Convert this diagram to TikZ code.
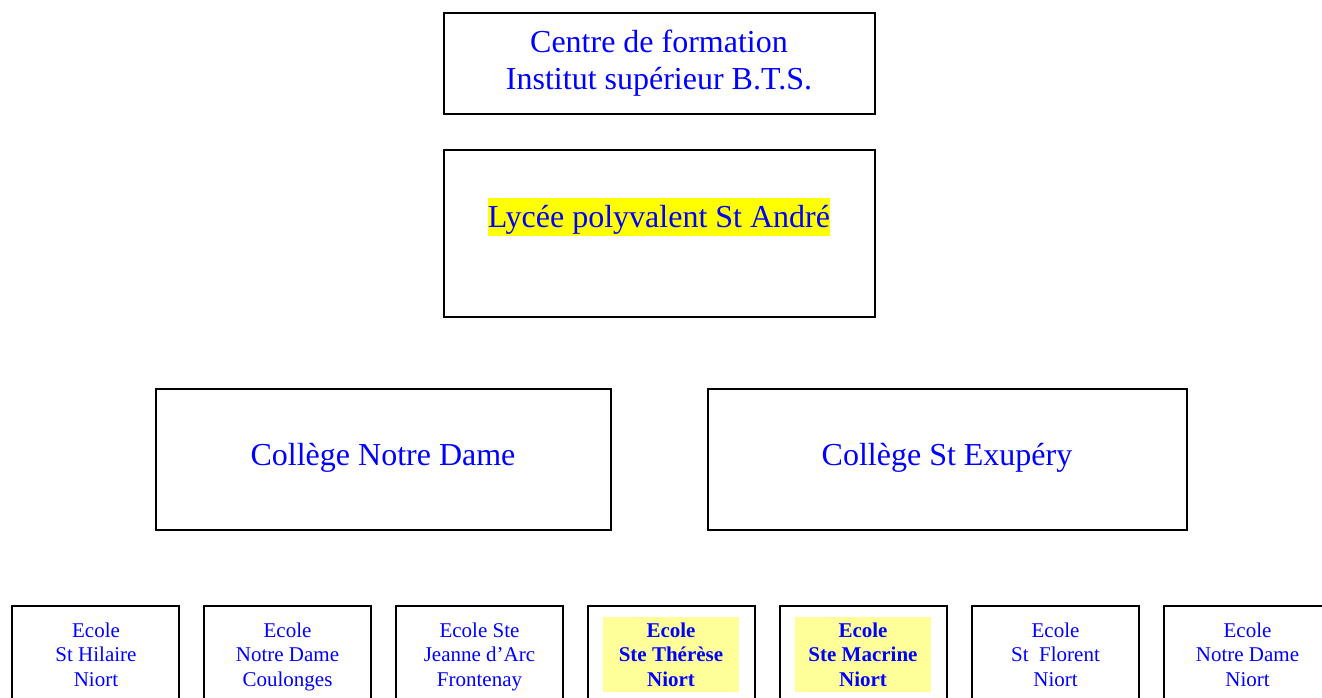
\documentclass[tikz,border=0pt]{standalone}
\usepackage{fontspec}
\setmainfont{Liberation Serif}
\definecolor{txtblue}{RGB}{0,0,255}
\definecolor{hlyellow}{RGB}{255,255,0}
\definecolor{paleyellow}{RGB}{255,255,153}
\begin{document}
\begin{tikzpicture}[x=1pt,y=-1pt,
  box/.style={draw=black,line width=2pt,rectangle,inner sep=0pt,outer sep=0pt},
  bigtxt/.style={text=txtblue,font=\fontsize{32}{37}\selectfont,inner sep=0pt,anchor=base},
  smalltxt/.style={text=txtblue,font=\fontsize{21}{24.5}\selectfont,inner sep=0pt,anchor=base},
  boldtxt/.style={smalltxt,font=\fontsize{21}{24.5}\selectfont\bfseries},
  hl/.style={fill=paleyellow,draw=none,rectangle,inner sep=0pt,minimum width=136pt,minimum height=75pt},
  school/.style={box,minimum width=167pt,minimum height=124pt}
]
\useasboundingbox (0,0) rectangle (1322,697);
\clip (0,0) rectangle (1322,697);

% top
\node[box,minimum width=431pt,minimum height=100.7pt] (centre) at (659.5,63.3) {};
\node[bigtxt] (centre1) at (659,52.5) {Centre de formation};
\node[bigtxt] (centre2) at (659,89.5) {Institut supérieur B.T.S.};

% lycee
\node[box,minimum width=431pt,minimum height=167pt] (lycee) at (659.5,233.5) {};
\node[bigtxt,fill=hlyellow,text height=29pt,text depth=9pt] (lyceetxt) at (659,227) {Lycée polyvalent St André};

% colleges
\node[box,minimum width=455pt,minimum height=141.3pt] (cnd) at (383.2,459.3) {};
\node[bigtxt] (cndtxt) at (383,465) {Collège Notre Dame};
\node[box,minimum width=479pt,minimum height=141.3pt] (cse) at (947.5,459.3) {};
\node[bigtxt] (csetxt) at (947,465) {Collège St Exupéry};

% schools
\node[school] (e1) at (95.5,668) {};
\node[school] (e2) at (287.5,668) {};
\node[school] (e3) at (479.5,668) {};
\node[school] (e4) at (671.5,668) {};
\node[school] (e5) at (863.5,668) {};
\node[school] (e6) at (1055.5,668) {};
\node[school] (e7) at (1247.5,668) {};

\node[hl] (h4) at (671,654.5) {};
\node[hl] (h5) at (863,654.5) {};

\node[smalltxt] (e1a) at (96,637) {Ecole};
\node[smalltxt] (e1b) at (96,661.5) {St Hilaire};
\node[smalltxt] (e1c) at (96,686) {Niort};

\node[smalltxt] (e2a) at (287.5,637) {Ecole};
\node[smalltxt] (e2b) at (287.5,661.5) {Notre Dame};
\node[smalltxt] (e2c) at (287.5,686) {Coulonges};

\node[smalltxt] (e3a) at (479.5,637) {Ecole Ste};
\node[smalltxt] (e3b) at (479.5,661.5) {Jeanne d’Arc};
\node[smalltxt] (e3c) at (479.5,686) {Frontenay};

\node[boldtxt] (e4a) at (671,637) {Ecole};
\node[boldtxt] (e4b) at (671,661.5) {Ste Thérèse};
\node[boldtxt] (e4c) at (671,686) {Niort};

\node[boldtxt] (e5a) at (863,637) {Ecole};
\node[boldtxt] (e5b) at (863,661.5) {Ste Macrine};
\node[boldtxt] (e5c) at (863,686) {Niort};

\node[smalltxt] (e6a) at (1055.5,637) {Ecole};
\node[smalltxt] (e6b) at (1055.5,661.5) {St\ \ Florent};
\node[smalltxt] (e6c) at (1055.5,686) {Niort};

\node[smalltxt] (e7a) at (1247.5,637) {Ecole};
\node[smalltxt] (e7b) at (1247.5,661.5) {Notre Dame};
\node[smalltxt] (e7c) at (1247.5,686) {Niort};
\end{tikzpicture}
\end{document}
